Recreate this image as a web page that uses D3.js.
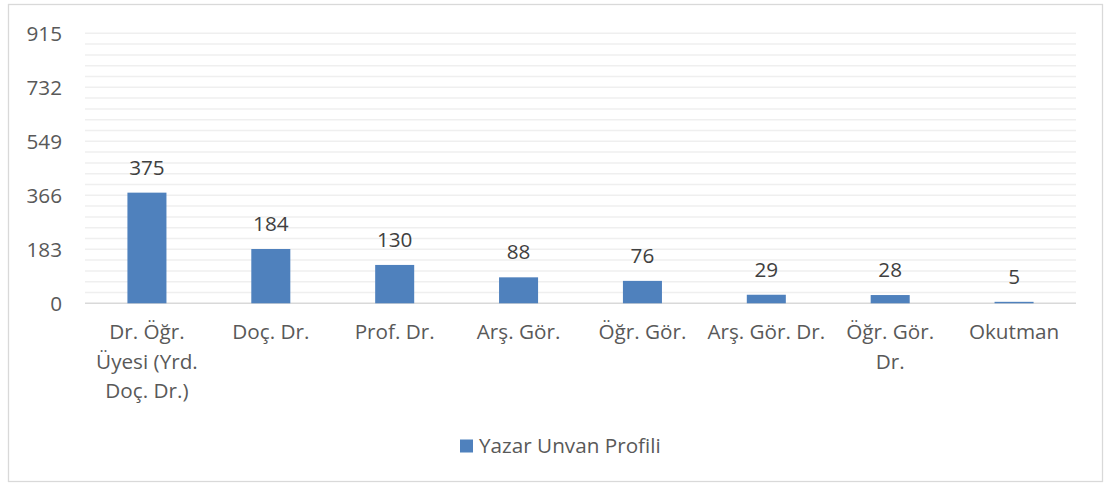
<!DOCTYPE html>
<html><head><meta charset="utf-8">
<script src="https://cdn.jsdelivr.net/npm/d3@7"></script>
<style>body{margin:0;background:#fff}svg{display:block}text{font-family:"Open Sans",sans-serif}</style>
</head><body>
<script>
const categories = ["Dr. Öğr. Üyesi (Yrd. Doç. Dr.)","Doç. Dr.","Prof. Dr.","Arş. Gör.","Öğr. Gör.","Arş. Gör. Dr.","Öğr. Gör. Dr.","Okutman"];
const labelLines = [["Dr. Öğr.","Üyesi (Yrd.","Doç. Dr.)"],["Doç. Dr."],["Prof. Dr."],["Arş. Gör."],["Öğr. Gör."],["Arş. Gör. Dr."],["Öğr. Gör.","Dr."],["Okutman"]];
const values = [375,184,130,88,76,29,28,5];
const yTicks = [0,183,366,549,732,915];
const seriesName = "Yazar Unvan Profili";

(function(){
const W=1105,H=485,FS=20.7;
const svg=d3.select("body").append("svg").attr("width",W).attr("height",H);
svg.append("rect").attr("x",8.5).attr("y",4.5).attr("width",1094).attr("height",477).attr("fill","#fff").attr("stroke","#d9d9d9").attr("stroke-width",1.3);

const pL=85,pR=1076,pT=33.3,pB=303.3;
const x=d3.scaleBand().domain(categories).range([pL,pR]).padding(0);
const y=d3.scaleLinear().domain([0,915]).range([pB,pT]);

const minor=d3.range(0,915.1,36.6);
svg.append("g").selectAll("line").data(minor.slice(1)).join("line")
 .attr("x1",pL).attr("x2",pR).attr("y1",d=>y(d)).attr("y2",d=>y(d))
 .attr("stroke","#efefef").attr("stroke-width",1.5);
svg.append("line").attr("x1",pL).attr("x2",pR).attr("y1",y(0)).attr("y2",y(0)).attr("stroke","#d9d9d9").attr("stroke-width",1.5);

svg.append("g").selectAll("text").data(yTicks).join("text")
 .attr("x",62).attr("y",d=>y(d)).attr("dy","0.36em").attr("text-anchor","end")
 .attr("fill","#595959").attr("font-size",FS).text(d=>d);

const bw=x.bandwidth()*0.315;
svg.append("g").selectAll("rect").data(values).join("rect")
 .attr("x",(d,i)=>x(categories[i])+x.bandwidth()/2-bw/2).attr("width",bw)
 .attr("y",d=>y(d)).attr("height",d=>y(0)-y(d)).attr("fill","#4f81bd");

svg.append("g").selectAll("text").data(values).join("text")
 .attr("x",(d,i)=>x(categories[i])+x.bandwidth()/2).attr("y",d=>y(d)-18)
 .attr("text-anchor","middle").attr("fill","#404040").attr("font-size",FS).text(d=>d);

const cat=svg.append("g").selectAll("text").data(categories).join("text")
 .attr("text-anchor","middle").attr("fill","#595959").attr("font-size",FS);
cat.each(function(d,i){
  const t=d3.select(this);
  labelLines[i].forEach((l,j)=>t.append("tspan").attr("x",x(d)+x.bandwidth()/2).attr("y",332+j*29.5).attr("dy","0.36em").text(l));
});

svg.append("rect").attr("x",460).attr("y",439.5).attr("width",13).attr("height",13).attr("fill","#4f81bd");
svg.append("text").attr("x",479).attr("y",446).attr("dy","0.36em").attr("fill","#595959").attr("font-size",FS).text(seriesName);
})();
</script>
</body></html>
